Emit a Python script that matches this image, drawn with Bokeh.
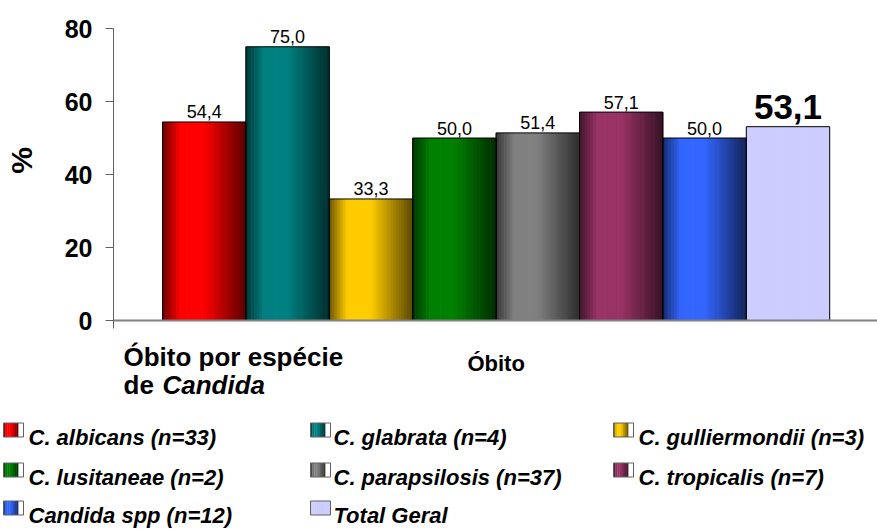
import math
from bokeh.plotting import figure
from bokeh.models import Range1d, FixedTicker
from bokeh.core.properties import value
from bokeh.embed import file_html
from bokeh.resources import INLINE

# ---------------- data ----------------
species = ["C. albicans (n=33)", "C. glabrata (n=4)", "C. gulliermondii (n=3)",
           "C. lusitaneae (n=2)", "C. parapsilosis (n=37)", "C. tropicalis (n=7)",
           "Candida spp (n=12)", "Total Geral"]
obito_pct = [54.4, 75.0, 33.3, 50.0, 51.4, 57.1, 50.0, 53.1]
base_colors = [(255, 0, 0), (0, 128, 128), (255, 204, 0), (0, 128, 0),
               (128, 128, 128), (153, 51, 102), (51, 102, 255), (204, 204, 255)]
use_gradient = [True, True, True, True, True, True, True, False]
y_ticks = [0, 20, 40, 60, 80]
category = "Óbito"
x_title_line1 = "Óbito por espécie"
x_title_line2a = "de "
x_title_line2b = "Candida"
y_title = "%"

FONT = "Liberation Sans"
W = 877

# ---------------- helpers ----------------
profile = [(0.0, 0.42), (0.22, 1.0), (0.5, 1.0), (1.0, 0.36)]


def factor(t):
    for (t0, f0), (t1, f1) in zip(profile[:-1], profile[1:]):
        if t0 <= t <= t1:
            return f0 + (f1 - f0) * (t - t0) / (t1 - t0)
    return profile[-1][1]


def shade(rgb, f):
    r, g, b = (max(0, min(255, int(round(c * f)))) for c in rgb)
    return "#%02x%02x%02x" % (r, g, b)


# ---------------- chart figure ----------------
frame_left = 113
frame_bottom = 320
px_per_cat = 83.4
x_start = -(162 - frame_left) / px_per_cat
x_end = x_start + (W - frame_left) / px_per_cat
px_per_unit = 3.65
y_end = frame_bottom / px_per_unit
H1 = 333

p = figure(width=W, height=H1, x_range=Range1d(x_start, x_end),
           y_range=Range1d(0, y_end), output_backend="svg",
           toolbar_location=None, min_border_left=frame_left, min_border_right=0,
           min_border_top=0, min_border_bottom=H1 - frame_bottom)
p.xgrid.visible = False
p.ygrid.visible = False
p.outline_line_color = None
p.background_fill_color = "white"

N = 30
sx, stop, scol = [], [], []
for i, (v, c, g) in enumerate(zip(obito_pct, base_colors, use_gradient)):
    for k in range(N):
        t = (k + 0.5) / N
        sx.append(i + t)
        stop.append(v)
        scol.append(shade(c, factor(t) if g else 1.0))
p.vbar(x=sx, width=1.25 / N, top=stop, bottom=0, fill_color=scol, line_color=None)

centers = [i + 0.5 for i in range(len(obito_pct))]
p.vbar(x=centers, width=1.0, top=obito_pct, bottom=0, fill_color=None,
       line_color="black", line_width=1)

labels = [("%.1f" % v).replace(".", ",") for v in obito_pct]
p.text(x=centers[:-1], y=obito_pct[:-1], text=labels[:-1], text_align="center",
       text_baseline="alphabetic", y_offset=-10, text_font=value(FONT),
       text_font_size="18px", text_color="black")
p.text(x=centers[-1:], y=obito_pct[-1:], text=labels[-1:],
       text_align="center", text_baseline="alphabetic", y_offset=-20,
       text_font=value(FONT), text_font_size="35px", text_font_style="bold",
       text_color="black")

ax = p.yaxis[0]
ax.ticker = FixedTicker(ticks=y_ticks)
ax.bounds = (0, 80)
ax.major_label_text_font = FONT
ax.major_label_text_font_size = "25px"
ax.major_label_text_font_style = "bold"
ax.major_label_text_color = "black"
ax.major_label_standoff = 13
ax.axis_line_color = "#606060"
ax.major_tick_line_color = "#606060"
ax.major_tick_out = 8
ax.major_tick_in = 0
ax.minor_tick_out = 0
ax.minor_tick_in = 0
ax.axis_label = y_title
ax.axis_label_text_font = FONT
ax.axis_label_text_font_size = "30px"
ax.axis_label_text_font_style = "bold"
ax.axis_label_text_color = "black"
ax.axis_label_standoff = 24

xa = p.xaxis[0]
xa.ticker = FixedTicker(ticks=[x_start + 1e-6])
xa.major_label_text_font_size = "1px"
xa.major_label_text_color = None
xa.major_label_standoff = 0
xa.axis_line_color = "#808080"
xa.axis_line_width = 2
xa.major_tick_line_color = "#606060"
xa.major_tick_out = 8
xa.major_tick_in = 0
xa.minor_tick_out = 0
xa.minor_tick_in = 0

# ---------------- lower figure: category texts + legend ----------------
H2 = 529 - H1
low = figure(width=W, height=H2, x_range=Range1d(0, W),
             y_range=Range1d(529, H1), output_backend="svg",
             toolbar_location=None, min_border=0, min_border_left=0,
             min_border_right=0, min_border_top=0, min_border_bottom=0,
             x_axis_location=None, y_axis_location=None)
low.xgrid.visible = False
low.ygrid.visible = False
low.outline_line_color = None

# x position of the category centre in screen pixels, derived from the chart scale
cat_center_px = frame_left + (len(obito_pct) / 2 - x_start) * px_per_cat

low.text(x=[123], y=[356], text=[x_title_line1], text_font=value(FONT),
         text_font_size="26px", text_font_style="bold", text_baseline="alphabetic",
         text_color="black")
low.text(x=[123], y=[384], text=[x_title_line2a], text_font=value(FONT),
         text_font_size="26px", text_font_style="bold", text_baseline="alphabetic",
         text_color="black")
low.text(x=[162], y=[384], text=[x_title_line2b], text_font=value(FONT),
         text_font_size="26px", text_font_style="bold italic",
         text_baseline="alphabetic", text_color="black")
low.text(x=[cat_center_px], y=[363], text=[category], text_font=value(FONT),
         text_font_size="22px", text_font_style="bold", text_align="center",
         text_baseline="alphabetic", text_color="black")

col_sw_x = [3, 310, 613]
col_text_x = [28, 333, 638]
row_base_y = [437, 477, 515]
grad_w, white_w, sw_h, M = 15, 5, 14, 8
ql, qr, qt, qb, qc = [], [], [], [], []
ol, orr, ot, ob = [], [], [], []
tx, ty = [], []
for idx, (name, c, g) in enumerate(zip(species, base_colors, use_gradient)):
    col, row = idx % 3, idx // 3
    left = col_sw_x[col]
    cy = row_base_y[row] - 7.5
    for k in range(M):
        t = (k + 0.5) / M
        ql.append(left + k * grad_w / M)
        qr.append(left + (k + 1.15) * grad_w / M)
        qt.append(cy - sw_h / 2)
        qb.append(cy + sw_h / 2)
        qc.append(shade(c, factor(t)) if g else shade(c, 1.0))
    ql.append(left + grad_w)
    qr.append(left + grad_w + white_w)
    qt.append(cy - sw_h / 2)
    qb.append(cy + sw_h / 2)
    qc.append("#ffffff" if g else shade(c, 1.0))
    ol.append(left)
    orr.append(left + grad_w + white_w)
    ot.append(cy - sw_h / 2)
    ob.append(cy + sw_h / 2)
    tx.append(col_text_x[col])
    ty.append(row_base_y[row])

low.quad(left=ql, right=qr, top=qt, bottom=qb, fill_color=qc, line_color=None)
low.quad(left=ol, right=orr, top=ot, bottom=ob, fill_color=None,
         line_color="#606060", line_width=1)
low.text(x=tx, y=ty, text=species, text_font=value(FONT), text_font_size="22px",
         text_font_style="bold italic", text_baseline="alphabetic",
         text_color="black")

open("out.html", "w").write(file_html([p, low], INLINE))
